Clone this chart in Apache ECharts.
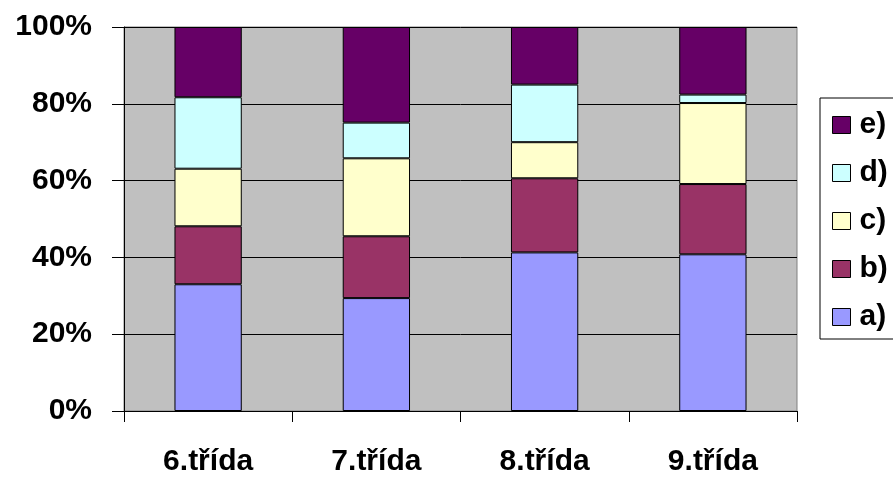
<!DOCTYPE html>
<html>
<head>
<meta charset="utf-8">
<script src="https://cdn.jsdelivr.net/npm/echarts@6/dist/echarts.min.js"></script>
<style>
html,body{margin:0;padding:0;background:#fff;}
#c{width:893px;height:477px;}
</style>
</head>
<body>
<div id="c"></div>
<script>
var categories = ['6.třída', '7.třída', '8.třída', '9.třída'];
var seriesNames = ['a)', 'b)', 'c)', 'd)', 'e)'];
var valuesA = [33.0, 29.4, 41.3, 40.8];
var valuesB = [15.1, 16.1, 19.3, 18.3];
var valuesC = [15.0, 20.3, 9.4, 21.1];
var valuesD = [18.6, 9.3, 15.0, 2.2];
var valuesE = [18.3, 24.9, 15.0, 17.6];
var colors = ['#9999FF', '#993366', '#FFFFCC', '#CCFFFF', '#660066'];

var allValues = [valuesA, valuesB, valuesC, valuesD, valuesE];
var font = 'Liberation Sans, Arial, sans-serif';

var chart = echarts.init(document.getElementById('c'), null, {renderer: 'canvas'});
var series = seriesNames.map(function (n, i) {
  return {
    name: n,
    type: 'bar',
    stack: 'total',
    barWidth: '40%',
    data: allValues[i],
    itemStyle: {color: colors[i], borderColor: '#000', borderWidth: 1},
    emphasis: {disabled: true}
  };
});

chart.setOption({
  animation: false,
  grid: {
    left: 124, right: 96, top: 27, bottom: 66,
    show: true, backgroundColor: '#C0C0C0', borderColor: '#808080', borderWidth: 1
  },
  legend: {
    orient: 'vertical',
    left: 820, top: 98,
    data: ['e)', 'd)', 'c)', 'b)', 'a)'],
    itemWidth: 18, itemHeight: 17, itemGap: 18,
    icon: 'rect',
    borderColor: '#000', borderWidth: 1,
    padding: [12, 60, 7, 12],
    itemStyle: {borderColor: '#000', borderWidth: 1},
    textStyle: {fontFamily: font, fontWeight: 'bold', fontSize: 30, color: '#000', padding: [0, 0, 0, 4]}
  },
  xAxis: {
    type: 'category',
    data: categories,
    axisLine: {lineStyle: {color: '#000', width: 1}},
    axisTick: {show: true, length: 11, lineStyle: {color: '#000'}},
    axisLabel: {fontFamily: font, fontWeight: 'bold', fontSize: 30, color: '#000', margin: 36}
  },
  yAxis: {
    type: 'value',
    min: 0, max: 100, interval: 20,
    axisLine: {show: true, lineStyle: {color: '#000', width: 1}},
    axisTick: {show: true, length: 12, lineStyle: {color: '#000'}},
    splitLine: {show: true, lineStyle: {color: '#000', width: 1}},
    axisLabel: {formatter: '{value}%', fontFamily: font, fontWeight: 'bold', fontSize: 30, color: '#000', margin: 32}
  },
  series: series
});
</script>
</body>
</html>
